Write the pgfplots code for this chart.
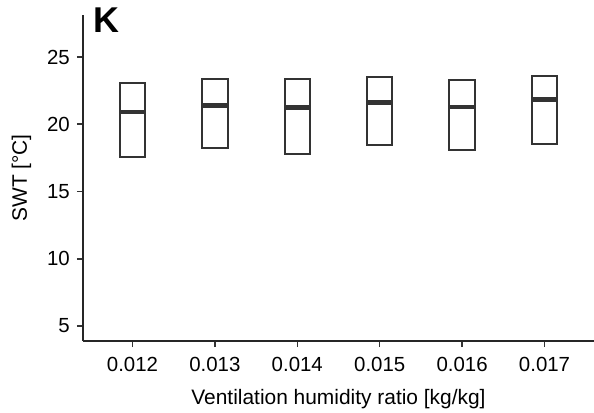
\documentclass[border=0pt]{standalone}
\usepackage{fontspec}
\setmainfont{Liberation Sans}
\usepackage{pgfplots}
\pgfplotsset{compat=1.18}
\usepgfplotslibrary{statistics}
\definecolor{dk}{HTML}{333333}

\begin{document}
\begin{tikzpicture}
\begin{axis}[
    at={(0,0)}, anchor=south west,
    scale only axis, width=511bp, height=326bp,
    clip=false,
    xmin=0.4, xmax=6.6, ymin=3.89, ymax=28.12,
    axis x line*=bottom, axis y line*=left,
    axis line style={line width=1.6bp, black!85, -},
    xtick={1,...,6},
    xticklabels={0.012,0.013,0.014,0.015,0.016,0.017},
    ytick={5,10,15,20,25},
    tick align=outside, major tick length=6bp,
    tick style={line width=1.5bp, dk},
    ticklabel style={font=\fontsize{20.5}{24}\selectfont, inner sep=0pt},
    /pgf/number format/assume math mode=true,
    xticklabel style={anchor=north, yshift=-10bp},
    yticklabel style={anchor=east, xshift=-7bp},
    xlabel={Ventilation humidity ratio [kg/kg]},
    ylabel={SWT [°C]},
    label style={font=\fontsize{21}{25}\selectfont},
    xlabel style={at={(axis description cs:0.5,-0.1933)}, anchor=base},
    ylabel style={at={(axis description cs:-0.1096,0.5)}, anchor=base},
    boxplot/draw direction=y,
    boxplot/box extend=0.31,
    boxplot/whisker extend=0,
    boxplot/every median/.style={line width=4.8bp},
    every boxplot/.style={draw=dk, line width=2bp, solid, mark=none},
]
% prepared quartiles and medians (no whiskers shown)
\addplot[boxplot prepared={draw position=1, median=20.91, upper quartile=23.07,
    lower quartile=17.57, upper whisker=23.07, lower whisker=17.57}]
    coordinates {};
\addplot[boxplot prepared={draw position=2, median=21.38, upper quartile=23.34,
    lower quartile=18.26, upper whisker=23.34, lower whisker=18.26}]
    coordinates {};
\addplot[boxplot prepared={draw position=3, median=21.23, upper quartile=23.34,
    lower quartile=17.80, upper whisker=23.34, lower whisker=17.80}]
    coordinates {};
\addplot[boxplot prepared={draw position=4, median=21.63, upper quartile=23.49,
    lower quartile=18.46, upper whisker=23.49, lower whisker=18.46}]
    coordinates {};
\addplot[boxplot prepared={draw position=5, median=21.28, upper quartile=23.29,
    lower quartile=18.09, upper whisker=23.29, lower whisker=18.09}]
    coordinates {};
\addplot[boxplot prepared={draw position=6, median=21.86, upper quartile=23.61,
    lower quartile=18.54, upper whisker=23.61, lower whisker=18.54}]
    coordinates {};
\node[anchor=base west, inner sep=0pt, font=\bfseries\fontsize{36}{40}\selectfont]
    at (axis description cs:0.0204,0.946) {K};
\end{axis}
\pgfresetboundingbox
\path (-83bp,-72bp) rectangle (511bp,341bp);
\end{tikzpicture}
\end{document}
